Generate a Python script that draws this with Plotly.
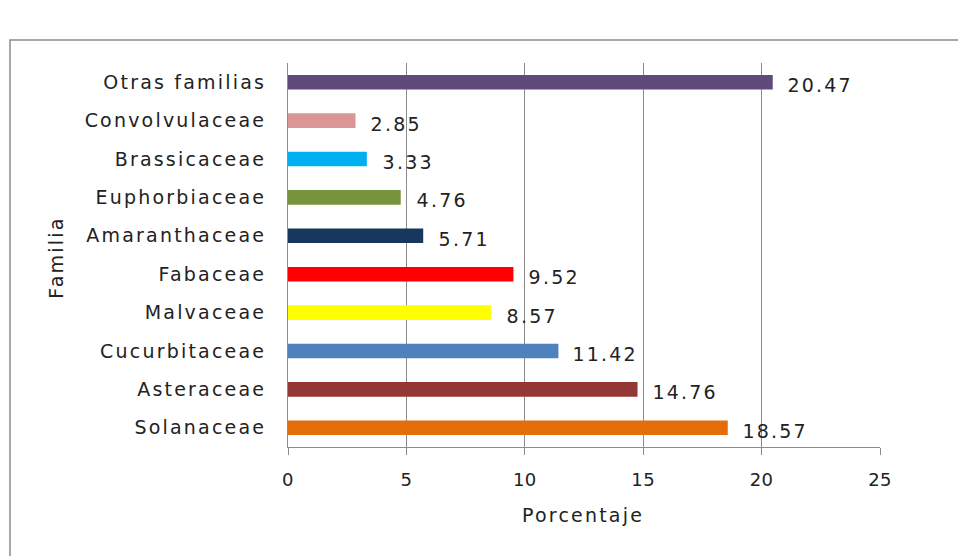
import plotly.graph_objects as go

familias = ["Solanaceae", "Asteraceae", "Cucurbitaceae", "Malvaceae", "Fabaceae",
            "Amaranthaceae", "Euphorbiaceae", "Brassicaceae", "Convolvulaceae", "Otras familias"]
porcentaje = [18.57, 14.76, 11.42, 8.57, 9.52, 5.71, 4.76, 3.33, 2.85, 20.47]
colores = ["#E46C0A", "#953735", "#4F81BD", "#FFFF00", "#FF0000",
           "#17375E", "#77933C", "#00B0F0", "#D99694", "#604A7B"]
x_ticks = [0, 5, 10, 15, 20, 25]
x_title = "Porcentaje"
y_title = "Familia"

FONT = "DejaVu Sans"
TXT = "#222222"
GRID = "#8c8c8c"

fig = go.Figure()
fig.add_trace(go.Bar(
    x=porcentaje, y=familias, orientation="h",
    marker=dict(color=colores, line=dict(width=0)),
    width=0.38, showlegend=False, hoverinfo="x+y",
))

for v, f in zip(porcentaje, familias):
    fig.add_annotation(x=v, y=f, text=f"{v:.2f}", showarrow=False,
                       xanchor="left", yanchor="middle", xshift=18, yshift=-3,
                       font=dict(family=FONT, size=19, color=TXT))

fig.add_annotation(xref="paper", yref="paper", x=(583 - 288) / 592, y=(447 - 515) / 384,
                   text=x_title, showarrow=False, xanchor="center", yanchor="middle",
                   font=dict(family=FONT, size=19, color=TXT))
fig.add_annotation(xref="paper", yref="paper", x=(56 - 288) / 592, y=(447 - 258) / 384,
                   text=y_title, showarrow=False, textangle=-90, xanchor="center", yanchor="middle",
                   font=dict(family=FONT, size=19, color=TXT))

fig.update_layout(
    width=958, height=556,
    margin=dict(l=288, r=78, t=63, b=109),
    paper_bgcolor="white", plot_bgcolor="white",
    font=dict(family=FONT, color=TXT),
    xaxis=dict(range=[0, 25], tickvals=x_ticks, showgrid=True, gridcolor=GRID,
               gridwidth=1, showline=True, linecolor=GRID, linewidth=1,
               ticks="outside", ticklen=7, tickcolor=GRID,
               tickfont=dict(family=FONT, size=18, color=TXT), ticklabelstandoff=9,
               zeroline=False, fixedrange=True),
    yaxis=dict(categoryorder="array", categoryarray=familias, showgrid=False,
               showline=True, linecolor=GRID, linewidth=1, ticks="",
               tickfont=dict(family=FONT, size=19, color=TXT), ticklabelstandoff=17,
               fixedrange=True),
    shapes=[dict(type="rect", xref="paper", yref="paper",
                 x0=(10 - 288) / 592, x1=1.3, y0=-0.5, y1=1 + (63 - 40) / 384,
                 line=dict(color=GRID, width=1.5), fillcolor="rgba(0,0,0,0)", layer="below")],
)

post = """
var gd = document.getElementById('{plot_id}');
function spacing(){
  gd.querySelectorAll('.ytick text, .annotation-text').forEach(function(t){ t.style.letterSpacing='2.2px'; });
  gd.querySelectorAll('.xtick text').forEach(function(t){ t.style.letterSpacing='0.4px'; });
}
spacing();
gd.on('plotly_afterplot', spacing);
"""

fig.write_html("out.html", post_script=post)
